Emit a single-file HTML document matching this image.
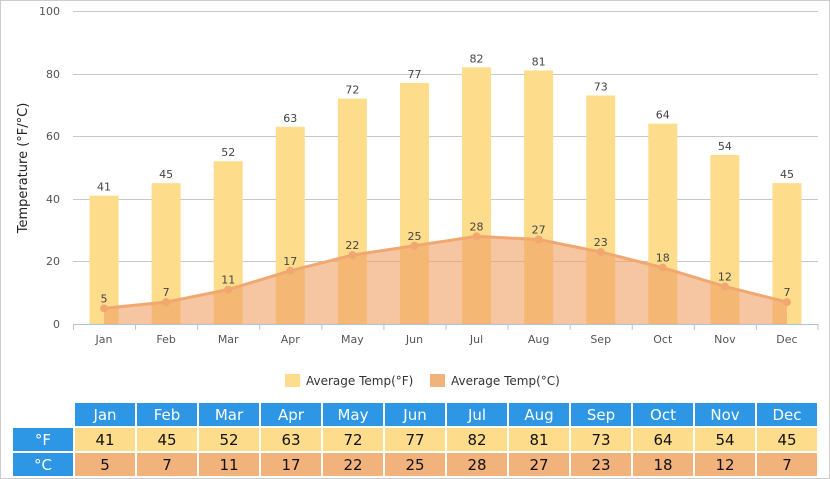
<!DOCTYPE html>
<html><head><meta charset="utf-8"><style>
body{margin:0;background:#fff}
#w{position:relative;width:828px;height:477px;border:1px solid #ccc;overflow:hidden;font-family:"DejaVu Sans","Liberation Sans",sans-serif}
svg{position:absolute;left:-1px;top:-1px}
table{position:absolute;left:10px;top:400px;border-collapse:separate;border-spacing:2px;}
td{width:60px;height:23px;padding:0;text-align:center;font-size:15px;color:#111}
td.h{background:#2d97e5;color:#fff}
tr.f td{background:#fddc8c}
tr.c td{background:#f2b27c}
tr td.h{background:#2d97e5;color:#fff}
td.e{background:#fff}
</style></head><body><div id="w">
<svg width="830" height="479" font-family="DejaVu Sans, Liberation Sans, sans-serif">
<g stroke="#c8c8c8" stroke-width="1">
<line x1="73" y1="11.5" x2="818" y2="11.5"/><line x1="73" y1="74.5" x2="818" y2="74.5"/><line x1="73" y1="136.5" x2="818" y2="136.5"/><line x1="73" y1="199.5" x2="818" y2="199.5"/><line x1="73" y1="261.5" x2="818" y2="261.5"/>
</g>
<g font-size="11" fill="#555" text-anchor="end">
<text x="60" y="15">100</text><text x="60" y="78">80</text><text x="60" y="140">60</text><text x="60" y="203">40</text><text x="60" y="265">20</text><text x="60" y="328">0</text>
</g>
<text transform="translate(27,168) rotate(-90)" font-size="13" fill="#222" text-anchor="middle">Temperature (°F/°C)</text>
<g fill="#fddc8c" id="bars"></g>
<path id="area" fill="rgba(240,160,100,0.6)"/>
<polyline id="line" fill="none" stroke="#f0a870" stroke-width="3"/>
<g id="pts" fill="#f0a870"></g>
<g id="lbl" font-size="11" fill="#444" text-anchor="middle"></g>
<line x1="73" y1="324.5" x2="818" y2="324.5" stroke="#b0c4de"/>
<g id="ticks" stroke="#b0c4de"></g>
<g id="xl" font-size="11" fill="#555" text-anchor="middle"></g>
<rect x="285" y="374" width="15" height="13" fill="#fddc8c"/>
<text x="306" y="385" font-size="12" fill="#333">Average Temp(°F)</text>
<rect x="430" y="374" width="15" height="13" fill="#f2b27c"/>
<text x="451" y="385" font-size="12" fill="#333">Average Temp(°C)</text>
</svg>
<table>
<tr><td class="e"></td><td class="h">Jan</td><td class="h">Feb</td><td class="h">Mar</td><td class="h">Apr</td><td class="h">May</td><td class="h">Jun</td><td class="h">Jul</td><td class="h">Aug</td><td class="h">Sep</td><td class="h">Oct</td><td class="h">Nov</td><td class="h">Dec</td></tr>
<tr class="f"><td class="h">°F</td><td>41</td><td>45</td><td>52</td><td>63</td><td>72</td><td>77</td><td>82</td><td>81</td><td>73</td><td>64</td><td>54</td><td>45</td></tr>
<tr class="c"><td class="h">°C</td><td>5</td><td>7</td><td>11</td><td>17</td><td>22</td><td>25</td><td>28</td><td>27</td><td>23</td><td>18</td><td>12</td><td>7</td></tr>
</table>
</div>
<script>
var F=[41,45,52,63,72,77,82,81,73,64,54,45],C=[5,7,11,17,22,25,28,27,23,18,12,7],M=["Jan","Feb","Mar","Apr","May","Jun","Jul","Aug","Sep","Oct","Nov","Dec"];
var ns="http://www.w3.org/2000/svg";function el(p,t,a,tx){var e=document.createElementNS(ns,t);for(var k in a)e.setAttribute(k,a[k]);if(tx!=null)e.textContent=tx;document.getElementById(p).appendChild(e);}
function y(v){return 324-3.13*v}var w=745/12,pts=[];
for(var i=0;i<12;i++){var cx=73+w*(i+0.5);
el("bars","rect",{x:cx-14.5,y:y(F[i]),width:29,height:324-y(F[i])});
el("lbl","text",{x:cx,y:y(F[i])-5},F[i]);
el("lbl","text",{x:cx,y:y(C[i])-6},C[i]);
el("pts","circle",{cx:cx,cy:y(C[i]),r:4});
pts.push(cx+","+y(C[i]));
el("xl","text",{x:cx,y:343},M[i]);
el("ticks","line",{x1:73+w*i+0.5,y1:324,x2:73+w*i+0.5,y2:330});}
el("ticks","line",{x1:818,y1:324,x2:818,y2:330});
document.getElementById("line").setAttribute("points",pts.join(" "));
document.getElementById("area").setAttribute("d","M"+(73+w/2)+",324 L"+pts.join(" L")+" L"+(73+w*11.5)+",324Z");
</script>
</body></html>
